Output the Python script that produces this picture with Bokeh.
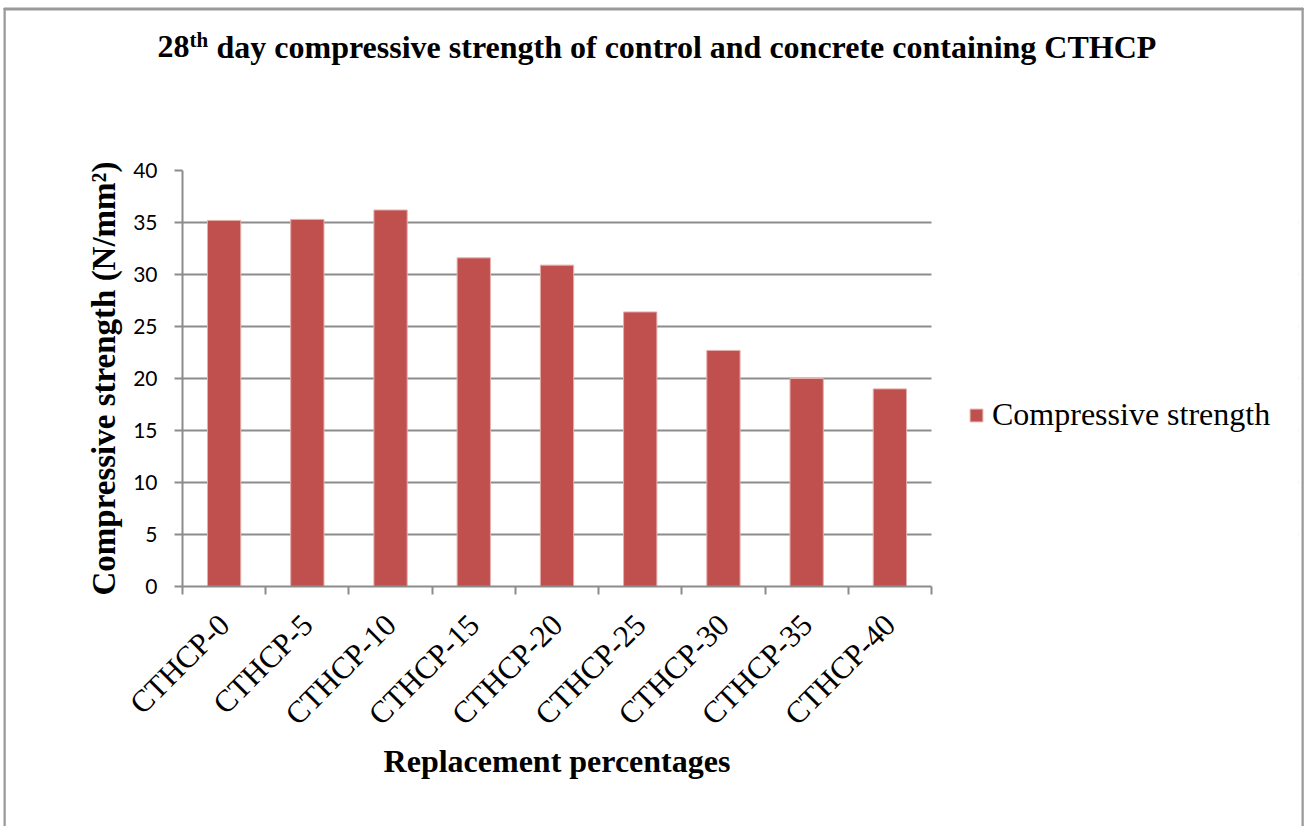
from bokeh.plotting import figure
from bokeh.models import (Range1d, FixedTicker, Label, Legend, LegendItem,
                          BoxAnnotation, ColumnDataSource)
from bokeh.embed import file_html
from bokeh.resources import INLINE

# 28-day compressive strength (N/mm²) per CTHCP replacement level
categories = ["CTHCP-0", "CTHCP-5", "CTHCP-10", "CTHCP-15", "CTHCP-20",
              "CTHCP-25", "CTHCP-30", "CTHCP-35", "CTHCP-40"]
strength = [35.2, 35.3, 36.2, 31.6, 30.9, 26.4, 22.7, 20.0, 19.0]
y_ticks = [0, 5, 10, 15, 20, 25, 30, 35, 40]

SERIF = "Liberation Serif"
GRAY = "#8C8C8C"
BAR = "#C0504D"

W, H = 1306, 826
PLOT_LEFT, PLOT_RIGHT, PLOT_TOP, PLOT_BOTTOM = 182, 931, 170, 586
FRAME_RIGHT = 1298  # frame runs on past the bars to hold the legend

n = len(categories)
unit_px = (PLOT_RIGHT - PLOT_LEFT) / n
x_end = (FRAME_RIGHT - PLOT_LEFT) / unit_px

centers = [i + 0.5 for i in range(n)]
bounds = list(range(n + 1))
src = ColumnDataSource(dict(x=centers, top=strength, cat=categories))

p = figure(width=W, height=H,
           x_range=Range1d(0, x_end), y_range=Range1d(0, 40),
           output_backend="svg", toolbar_location=None,
           min_border_left=PLOT_LEFT, min_border_right=W - FRAME_RIGHT,
           min_border_top=PLOT_TOP, min_border_bottom=H - PLOT_BOTTOM)
p.outline_line_color = None
p.background_fill_color = "white"
p.border_fill_color = "white"

# x axis: labels at category centres, tick marks at category boundaries
xax = p.xaxis[0]
xax.bounds = (0, n)
xax.ticker = FixedTicker(ticks=centers, minor_ticks=bounds)
xax.major_label_overrides = {c: name for c, name in zip(centers, categories)}
xax.major_label_orientation = 0.785398
xax.major_tick_line_color = None
xax.minor_tick_line_color = GRAY
xax.minor_tick_line_width = 2
xax.minor_tick_out = 8
xax.minor_tick_in = 0
xax.axis_line_color = GRAY
xax.axis_line_width = 2
xax.major_label_text_font = SERIF
xax.major_label_text_font_size = "31px"
xax.major_label_text_color = "black"
xax.major_label_standoff = 25

yax = p.yaxis[0]
yax.ticker = FixedTicker(ticks=y_ticks)
yax.minor_tick_line_color = None
yax.major_tick_line_color = GRAY
yax.major_tick_line_width = 2
yax.major_tick_out = 8
yax.major_tick_in = 0
yax.axis_line_color = GRAY
yax.axis_line_width = 2
yax.major_label_text_font = "Lato"
yax.major_label_text_font_size = "21px"
yax.major_label_text_color = "black"
yax.major_label_standoff = 17
yax.axis_label = "Compressive strength (N/mm²)"
yax.axis_label_text_font = SERIF
yax.axis_label_text_font_style = "bold"
yax.axis_label_text_font_size = "33px"
yax.axis_label_text_color = "black"
yax.axis_label_standoff = 8

p.xgrid.visible = False
p.ygrid.ticker = FixedTicker(ticks=y_ticks)
p.ygrid.grid_line_color = GRAY
p.ygrid.grid_line_width = 2

# blank out the grid to the right of the last category
p.add_layout(BoxAnnotation(left=n, right=x_end + 1, fill_color="white",
                           fill_alpha=1, line_color=None, level="underlay"))

bars = p.vbar(x="x", top="top", bottom=0, width=0.4, source=src,
              fill_color=BAR, line_color="#E3AFAD", line_width=1)

legend = Legend(items=[LegendItem(label="Compressive strength", renderers=[bars])],
                location=(786, 153), orientation="vertical",
                glyph_width=16, glyph_height=16, label_standoff=8,
                padding=0, margin=0, spacing=0,
                label_text_font=SERIF, label_text_font_size="32px",
                label_text_color="black",
                border_line_color=None, background_fill_alpha=0)
p.add_layout(legend)

# title with superscript ordinal, and the x axis title under the categories
text_style = dict(x_units="canvas", y_units="canvas", text_font=SERIF,
                  text_font_style="bold", text_color="black",
                  text_baseline="alphabetic", text_align="left")
p.add_layout(Label(x=157, y=46, text="28", text_font_size="32px", **text_style), "above")
p.add_layout(Label(x=189, y=39, text="th", text_font_size="21px", **text_style), "above")
p.add_layout(Label(x=216, y=46,
                   text="day compressive strength of control and concrete containing CTHCP",
                   text_font_size="32px", **text_style), "above")
x_title = dict(text_style, text_align="center")
p.add_layout(Label(x=(PLOT_LEFT + PLOT_RIGHT) / 2, y=760,
                   text="Replacement percentages", text_font_size="32px",
                   **x_title), "below")

# page frame: top edge and the two side edges
edge = dict(x_units="canvas", y_units="canvas", text=" ", text_font_size="1px",
            text_align="left", text_baseline="top",
            border_line_color="#9A9A9A", border_line_width=2,
            background_fill_color=None)
p.add_layout(Label(x=4, y=8, padding=(0, 1298, 0, 0), **edge), "above")
p.add_layout(Label(x=4, y=8, padding=(0, 0, 840, 0), **edge), "left")
p.add_layout(Label(x=1302, y=8, padding=(0, 0, 840, 0), **edge), "right")

open("out.html", "w").write(file_html(p, INLINE))
